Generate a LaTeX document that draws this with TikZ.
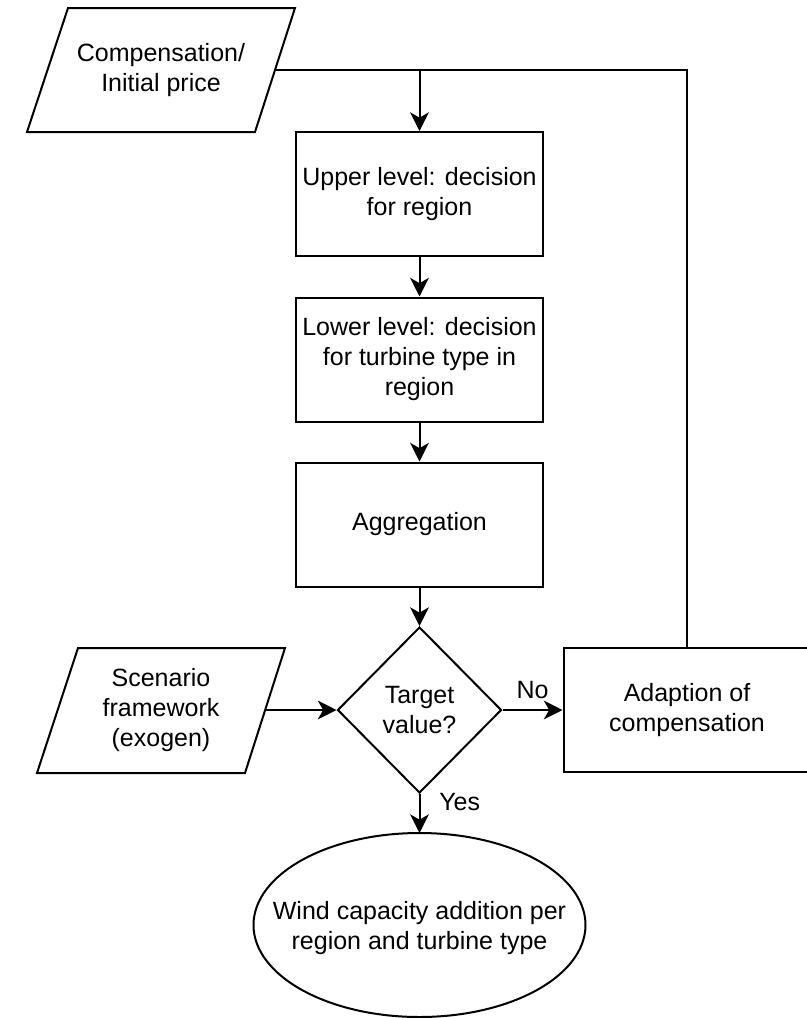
\documentclass[tikz,border=0pt]{standalone}
\usepackage{fontspec}
\setmainfont{Liberation Sans}
\usetikzlibrary{shapes.geometric,arrows.meta}
\begin{document}
\begin{tikzpicture}[x=0.75pt,y=-0.75pt,
  every node/.style={font=\fontsize{18.75}{22.5}\selectfont, align=center, inner sep=0pt},
  line/.style={line width=1.5pt, line join=miter},
  arr/.style={line, -{Stealth[length=14pt,width=14pt,inset=4pt]}},
  procbox/.style={draw, line width=1.5pt, minimum width=185.25pt, minimum height=93pt},
  decide/.style={draw, line width=1.5pt, diamond, aspect=1, minimum width=123pt, minimum height=124.5pt},
  lbl/.style={font=\fontsize{18.75}{22.5}\selectfont}
]
\useasboundingbox (0,0) rectangle (807,1018);
\clip (0,0) rectangle (807,1018);

% input parallelograms
\draw[line] (68,8) -- (295,8) -- (255,132) -- (27,132) -- cycle;
\node (comp) at (161,70) {Compensation/\\Initial price};
\coordinate (compR) at (275,70);

\draw[line] (78,648) -- (285,648) -- (245,773) -- (37,773) -- cycle;
\node (scen) at (161,710) {Scenario\\framework\\(exogen)};
\coordinate (scenR) at (265,710);

% process boxes
\node[procbox] (upper) at (419.5,194) {Upper level: decision\\for region};
\node[procbox] (lower) at (419.5,359.5) {Lower level: decision\\for turbine type in\\region};
\node[procbox] (aggr) at (419.5,524.5) {Aggregation};
\node[decide] (target) at (419.5,710) {Target\\value?};
\node[procbox] (adapt) at (687,710) {Adaption of\\compensation};

% result ellipse
\node (wind) at (419.5,928) {Wind capacity addition per\\region and turbine type};
\draw[line] (419.5,925) ellipse [x radius=166, y radius=92];
\coordinate (windtop) at (419.5,833);

% connectors
\draw[line] (compR) -- (upper.north |- compR);
\draw[arr] (adapt.north) |- (upper.north |- compR) -- (upper.north);
\draw[arr] (upper) -- (lower);
\draw[arr] (lower) -- (aggr);
\draw[arr] (aggr) -- (target);
\draw[arr] (scenR) -- (target.west);
\draw[arr] (target.east) -- node[lbl, above=8pt] (nolbl) {No} (adapt.west);
\draw[arr] (target.south) -- (windtop);
\node[lbl, anchor=west] (yeslbl) at (439,802) {Yes};
\end{tikzpicture}
\end{document}
